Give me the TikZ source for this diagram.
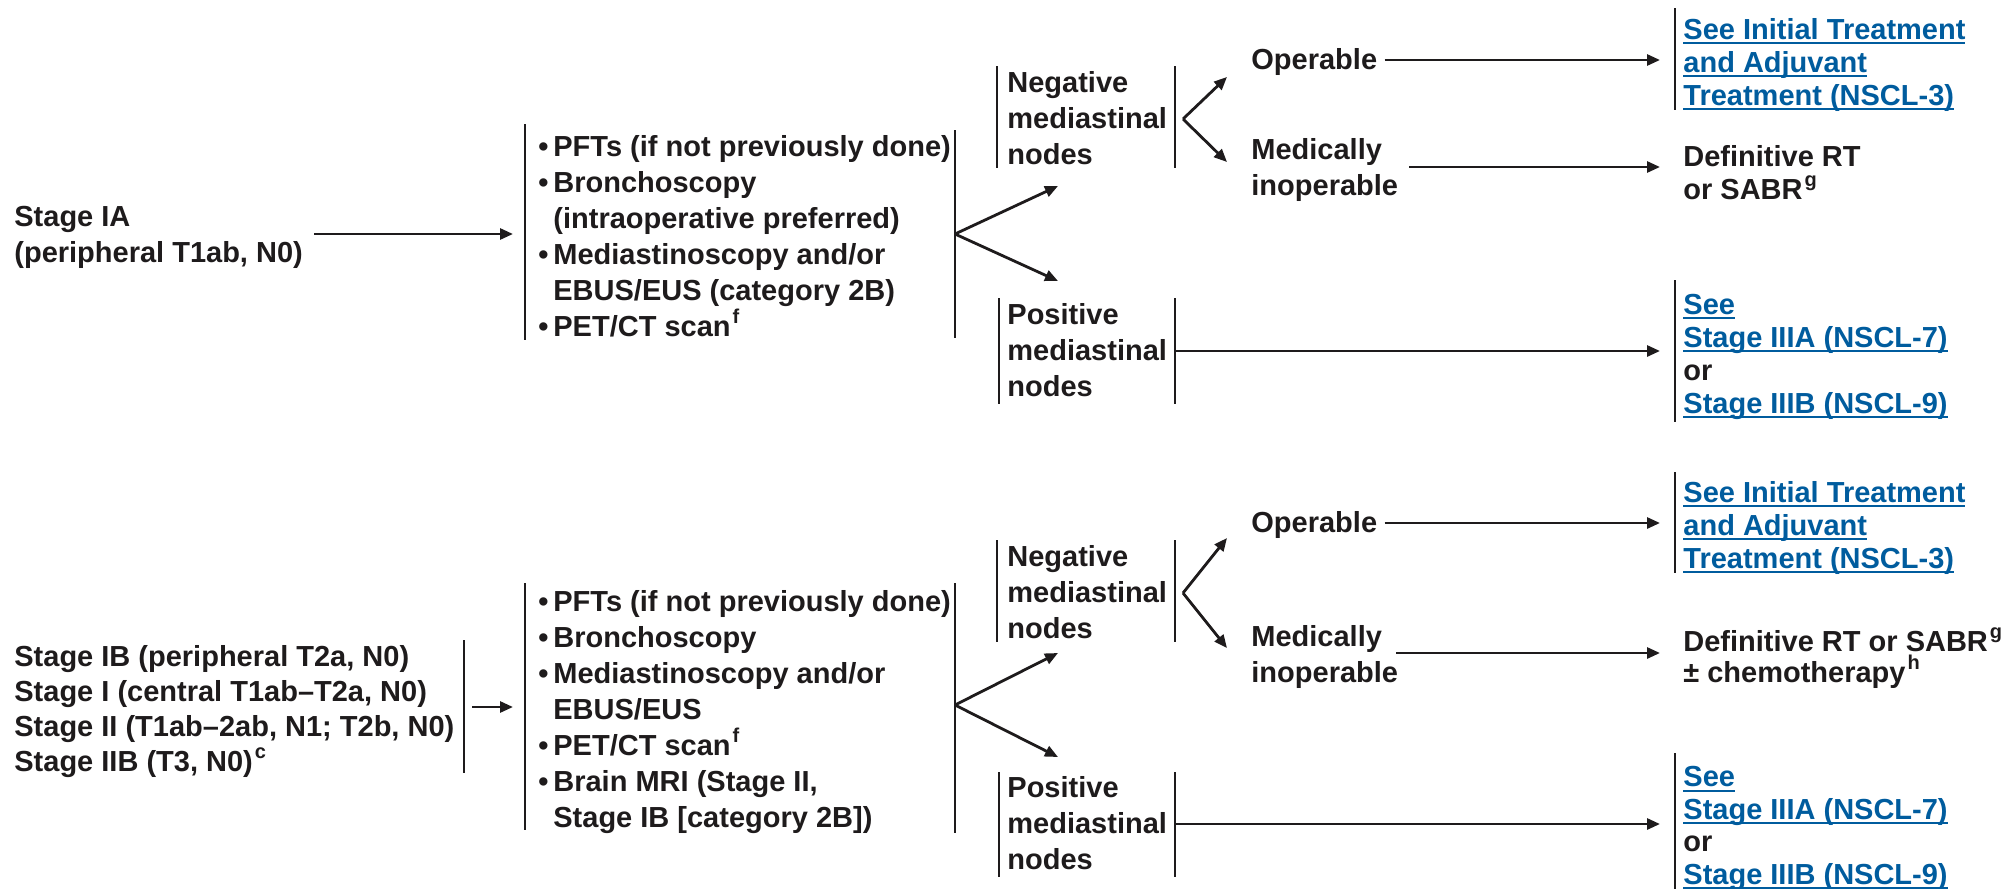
\documentclass[tikz,border=0pt]{standalone}
\usepackage{fontspec}
\setmainfont{Liberation Sans}
\usetikzlibrary{arrows.meta}
\definecolor{lnk}{RGB}{0,92,158}
\definecolor{ink}{RGB}{30,27,28}
\newsavebox\lnkbox
\newcommand\lnk[1]{\sbox\lnkbox{#1}\rlap{\rule[-2.6pt]{\wd\lnkbox}{1pt}}\usebox\lnkbox}
\newcommand\sups[1]{\hspace{1pt}\raisebox{0.42em}{\fontsize{10}{10}\selectfont #1}}
\newcommand\bul{\makebox[7.5pt][l]{\textbullet}}
\newcommand\ind{\hspace*{7.5pt}}
\begin{document}
\begin{tikzpicture}[x=0.5pt,y=-0.5pt,
  every node/.style={inner sep=0pt, anchor=base west, align=left, text=ink,
    font=\fontsize{14.5}{18}\selectfont\bfseries},
  rc/.style={font=\fontsize{14.5}{16.5}\selectfont\bfseries},
  bar/.style={draw=ink, line width=1.2pt},
  arr/.style={draw=ink, line width=1.4pt, -{Triangle[length=6.5pt,width=5.5pt]}}]
\useasboundingbox (0,0) rectangle (2009,889);

% ---------------- top section ----------------
% (anchor base = baseline of the last line)
\node (stA) at (14,262) {Stage IA\\(peripheral T1ab, N0)};
\node (tA) at (538,336) {\bul PFTs (if not previously done)\\\bul Bronchoscopy\\\ind(intraoperative preferred)\\\bul Mediastinoscopy and/or\\\ind EBUS/EUS (category 2B)\\\bul PET/CT scan\sups{f}};
\draw[bar] (525,124) -- (525,340);
\draw[bar] (955,130) -- (955,338);
\coordinate (tAin) at (525,234);
\coordinate (tAout) at (955,234);
\draw[arr, shorten <=5.5pt, shorten >=6pt] (stA.east |- tAin) -- (tAin);

\node (nA) at (1007,164) {Negative\\mediastinal\\nodes};
\draw[bar] (997,66) -- (997,168);
\draw[bar] (1175,66) -- (1175,168);
\node (pA) at (1007,396) {Positive\\mediastinal\\nodes};
\draw[bar] (999,298) -- (999,404);
\draw[bar] (1175,298) -- (1175,404);
\coordinate (nAin) at (1058,186);
\coordinate (pAin) at (1058,281);
\draw[arr] (tAout) -- (nAin);
\draw[arr] (tAout) -- (pAin);

\node (opA) at (1251,69) {Operable};
\node (miA) at (1251,195) {Medically\\inoperable};
\coordinate (nAout) at (1183,119);
\coordinate (opAin) at (1227,77);
\coordinate (miAin) at (1227,162);
\draw[arr] (nAout) -- (opAin);
\draw[arr] (nAout) -- (miAin);

\coordinate (R1) at (1675,60);
\coordinate (R2) at (1675,167);
\coordinate (pAout) at (1175,351);
\coordinate (R3) at (1675,351);
\draw[arr, shorten <=3.5pt, shorten >=7.5pt] (opA.east |- R1) -- (R1);
\draw[arr, shorten <=5.5pt, shorten >=7.5pt] (miA.east |- R2) -- (R2);
\draw[arr, shorten >=7.5pt] (pAout) -- (R3);

\node[rc, text=lnk] (r1) at (1683,105) {\lnk{See Initial Treatment}\\\lnk{and Adjuvant}\\\lnk{Treatment (NSCL-3)}};
\draw[bar] (1675,8) -- (1675,110);
\node[rc] (dA) at (1683,199) {Definitive RT\\or SABR\sups{g}};
\node[rc] (r2) at (1683,413) {\textcolor{lnk}{\lnk{See}}\\\textcolor{lnk}{\lnk{Stage IIIA (NSCL-7)}}\\or\\\textcolor{lnk}{\lnk{Stage IIIB (NSCL-9)}}};
\draw[bar] (1675,280) -- (1675,422);

% ---------------- bottom section ----------------
\node[font=\fontsize{14.5}{17.5}\selectfont\bfseries] (stB) at (14,771) {Stage IB (peripheral T2a, N0)\\Stage I (central T1ab–T2a, N0)\\Stage II (T1ab–2ab, N1; T2b, N0)\\Stage IIB (T3, N0)\sups{c}};
\draw[bar] (464,640) -- (464,773);
\coordinate (sBout) at (464,707);
\coordinate (tBin) at (525,707);
\draw[arr, shorten <=4pt, shorten >=6pt] (sBout) -- (tBin);

\node (tB) at (538,827) {\bul PFTs (if not previously done)\\\bul Bronchoscopy\\\bul Mediastinoscopy and/or\\\ind EBUS/EUS\\\bul PET/CT scan\sups{f}\\\bul Brain MRI (Stage II,\\\ind Stage IB [category 2B])};
\draw[bar] (525,583) -- (525,830);
\draw[bar] (955,583) -- (955,833);
\coordinate (tBout) at (955,705);

\node (nB) at (1007,638) {Negative\\mediastinal\\nodes};
\draw[bar] (997,540) -- (997,642);
\draw[bar] (1175,540) -- (1175,642);
\node (pB) at (1007,869) {Positive\\mediastinal\\nodes};
\draw[bar] (999,772) -- (999,877);
\draw[bar] (1175,772) -- (1175,877);
\coordinate (nBin) at (1058,653);
\coordinate (pBin) at (1058,757);
\draw[arr] (tBout) -- (nBin);
\draw[arr] (tBout) -- (pBin);

\node (opB) at (1251,532) {Operable};
\node (miB) at (1251,682) {Medically\\inoperable};
\coordinate (nBout) at (1183,593);
\coordinate (opBin) at (1227,538);
\coordinate (miBin) at (1227,648);
\draw[arr] (nBout) -- (opBin);
\draw[arr] (nBout) -- (miBin);

\coordinate (R4) at (1675,523);
\coordinate (R5) at (1675,653);
\coordinate (pBout) at (1175,824);
\coordinate (R6) at (1675,824);
\draw[arr, shorten <=3.5pt, shorten >=7.5pt] (opB.east |- R4) -- (R4);
\draw[arr, shorten <=-1pt, shorten >=7.5pt] (miB.east |- R5) -- (R5);
\draw[arr, shorten >=7.5pt] (pBout) -- (R6);

\node[rc, text=lnk] (r3) at (1683,568) {\lnk{See Initial Treatment}\\\lnk{and Adjuvant}\\\lnk{Treatment (NSCL-3)}};
\draw[bar] (1675,472) -- (1675,573);
\node[rc, font=\fontsize{14.5}{15.5}\selectfont\bfseries] (dB) at (1683,682) {Definitive RT or SABR\sups{g}\\± chemotherapy\sups{h}};
\node[rc, font=\fontsize{14.5}{16.25}\selectfont\bfseries] (r4) at (1683,884) {\textcolor{lnk}{\lnk{See}}\\\textcolor{lnk}{\lnk{Stage IIIA (NSCL-7)}}\\or\\\textcolor{lnk}{\lnk{Stage IIIB (NSCL-9)}}};
\draw[bar] (1675,753) -- (1675,889);
\end{tikzpicture}
\end{document}
